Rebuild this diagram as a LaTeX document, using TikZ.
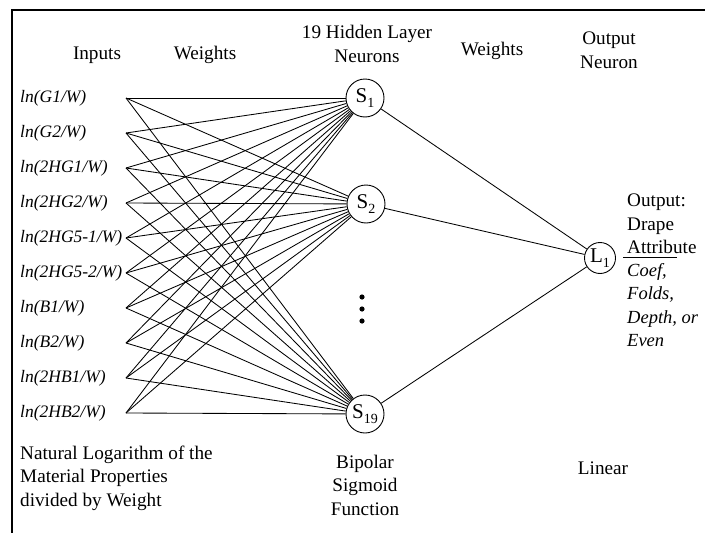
\documentclass[tikz,border=0pt]{standalone}
\usepackage{fontspec}
\setmainfont{Liberation Serif}
\newcommand{\nsub}[1]{\raisebox{-0.45ex}{\fontsize{14}{14}\selectfont #1}}
\begin{document}
\begin{tikzpicture}[x=1pt,y=-1pt,
  font=\fontsize{19.2}{23.5}\selectfont,
  neuron/.style={circle,draw,line width=0.9pt,minimum size=38pt,inner sep=0pt,font=\fontsize{21}{21}\selectfont},
  outneuron/.style={circle,draw,line width=0.9pt,minimum size=31pt,inner sep=0pt,font=\fontsize{21}{21}\selectfont},
  inlabel/.style={anchor=west,inner sep=0pt,font=\fontsize{17.5}{20}\selectfont\itshape},
  hdr/.style={align=center,inner sep=0pt},
  conn/.style={line width=0.85pt},
  frame/.style={line width=2pt}]
\useasboundingbox (0,0) rectangle (705,533);
% frame
\coordinate (ftr) at (705,10);
\coordinate (ftl) at (12,10);
\coordinate (fbl) at (12,533);
\draw[frame] (ftr) -- (ftl) -- (fbl);
% headers
\node[hdr] (hin) at (97,55) {Inputs};
\node[hdr] (hw1) at (205,55) {Weights};
\node[hdr] (hhid) at (367,44) {19 Hidden Layer\\Neurons};
\node[hdr] (hw2) at (492,51) {Weights};
\node[hdr] (hout) at (609,50) {Output\\Neuron};
% inputs
\foreach \k/\yy/\txt in {1/98/{ln(G1/W)},2/133/{ln(G2/W)},3/168/{ln(2HG1/W)},4/203/{ln(2HG2/W)},5/238/{ln(2HG5-1/W)},6/273/{ln(2HG5-2/W)},7/308/{ln(B1/W)},8/343/{ln(B2/W)},9/378/{ln(2HB1/W)},10/413/{ln(2HB2/W)}}{
  \coordinate (i\k) at (126,\yy);
  \node[inlabel] (l\k) at (20,\yy) {\txt};
}
% hidden neurons
\node[neuron] (s1) at (365,98) {S\nsub{1}};
\node[neuron] (s2) at (366,204) {S\nsub{2}};
\node[neuron] (s19) at (365,414) {S\nsub{19}};
\fill (362,297) circle (2.6pt);
\fill (362,309) circle (2.6pt);
\fill (362,321) circle (2.6pt);
% output neuron
\node[outneuron] (o1) at (600,258) {L\nsub{1}};
% connectors
\foreach \k in {1,...,10}{
  \foreach \s in {s1,s2,s19}{
    \draw[conn] (i\k) -- (\s);
  }
}
\foreach \s in {s1,s2,s19}{
  \draw[conn] (\s) -- (o1);
}
% output text
\node[anchor=west,align=left,inner sep=0pt] (otxt) at (627,224) {Output:\\Drape\\Attribute};
\coordinate (ra) at (623,257);
\coordinate (rb) at (677,257);
\draw[line width=0.9pt] (ra) -- (rb);
\node[anchor=west,align=left,inner sep=0pt,font=\fontsize{18.5}{23.5}\selectfont\itshape] (oitl) at (627,305) {Coef,\\Folds,\\Depth, or\\Even};
% bottom texts
\node[anchor=west,align=left,inner sep=0pt] (nat) at (20,478) {Natural Logarithm of the\\Material Properties\\divided by Weight};
\node[hdr] (bip) at (365,485) {Bipolar\\Sigmoid\\Function};
\node[hdr] (lin) at (603,468) {Linear};
\end{tikzpicture}
\end{document}
